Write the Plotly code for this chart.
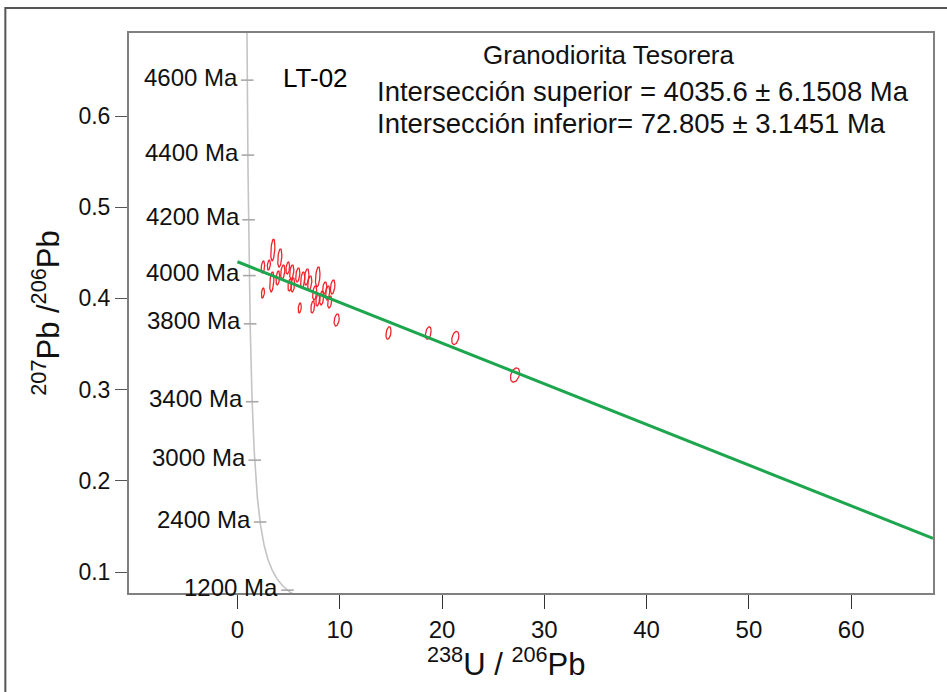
import numpy as np
import plotly.graph_objects as go

# ---- data ----
# concordia age marks (Ma)
age_marks = [4600, 4400, 4200, 4000, 3800, 3400, 3000, 2400, 1200]
# decay constants / ratio used to draw the Tera-Wasserburg concordia
lam238 = 1.55125e-10
lam235 = 9.8485e-10
u_ratio = 137.88

# analyses: 238U/206Pb, 207Pb/206Pb and half-widths of the error ellipses
ell_x = [2.49, 2.49, 3.46, 4.14, 3.36, 3.95, 4.43, 4.92, 5.31, 5.41, 5.90, 6.38, 6.77, 7.07,
         7.85, 7.55, 8.24, 8.82, 9.31, 6.09, 7.36, 9.02, 9.70, 3.07, 5.12, 8.53, 7.85,
         14.77, 18.66, 21.30, 27.14]
ell_y = [0.4344, 0.4059, 0.4531, 0.4443, 0.4180, 0.4224, 0.4289, 0.4333, 0.4289, 0.4147, 0.4257,
         0.4202, 0.4235, 0.4169, 0.4235, 0.4059, 0.4004, 0.4059, 0.4125, 0.3895, 0.3906, 0.3961,
         0.3763, 0.4366, 0.4147, 0.4114, 0.3983, 0.3621, 0.3621, 0.3566, 0.3160]
ell_sx = [0.17, 0.15, 0.20, 0.20, 0.20, 0.18, 0.20, 0.18, 0.20, 0.18, 0.20, 0.20, 0.22, 0.20,
          0.22, 0.20, 0.20, 0.20, 0.22, 0.15, 0.18, 0.20, 0.25, 0.15, 0.18, 0.20, 0.18,
          0.25, 0.28, 0.35, 0.45]
ell_sy = [0.0066, 0.0055, 0.0120, 0.0100, 0.0110, 0.0077, 0.0077, 0.0066, 0.0077, 0.0077, 0.0077,
          0.0088, 0.0088, 0.0077, 0.0110, 0.0077, 0.0077, 0.0077, 0.0077, 0.0055, 0.0066, 0.0066,
          0.0066, 0.0055, 0.0066, 0.0066, 0.0066, 0.0068, 0.0068, 0.0072, 0.0078]
ell_rho = 0.35

# discordia (regression) line end points
disc_x = [0.0, 68.0]
disc_y = [0.4402, 0.1369]

x_ticks = [0, 10, 20, 30, 40, 50, 60]
y_ticks = [0.1, 0.2, 0.3, 0.4, 0.5, 0.6]

title_lines = ["Granodiorita Tesorera",
               "Intersección superior = 4035.6 ± 6.1508 Ma",
               "Intersección inferior= 72.805 ± 3.1451 Ma"]
sample_label = "LT-02"


def tw(t_ma):
    t = np.asarray(t_ma, dtype=float) * 1e6
    e8 = np.exp(lam238 * t) - 1
    e5 = np.exp(lam235 * t) - 1
    return 1 / e8, e5 / e8 / u_ratio


fig = go.Figure()

# concordia curve
t_curve = np.linspace(1000, 4800, 400)
cx, cy = tw(t_curve)
fig.add_trace(go.Scatter(x=cx, y=cy, mode="lines",
                         line=dict(color="#c4c4c4", width=1.6),
                         hoverinfo="skip", showlegend=False))

# age marks
mx, my = tw(age_marks)
fig.add_trace(go.Scatter(x=mx, y=my, mode="markers",
                         marker=dict(symbol="line-ew", size=9,
                                     line=dict(color="#a8a8a8", width=1.6)),
                         hoverinfo="skip", showlegend=False))

# error ellipses
tt = np.linspace(0, 2 * np.pi, 40)
ex, ey = [], []
for x0, y0, sx, sy in zip(ell_x, ell_y, ell_sx, ell_sy):
    ex += list(x0 + sx * np.cos(tt)) + [None]
    ey += list(y0 + sy * (ell_rho * np.cos(tt) + np.sqrt(1 - ell_rho ** 2) * np.sin(tt))) + [None]
fig.add_trace(go.Scatter(x=ex, y=ey, mode="lines",
                         line=dict(color="#f0242b", width=1.3),
                         hoverinfo="skip", showlegend=False))

# discordia
fig.add_trace(go.Scatter(x=disc_x, y=disc_y, mode="lines",
                         line=dict(color="#1ea64e", width=3),
                         hoverinfo="skip", showlegend=False))

font_family = "Liberation Sans, Arial, sans-serif"

# age labels
for a, xx, yy in zip(age_marks, mx, my):
    fig.add_annotation(x=xx, y=yy, xref="x", yref="y", text=f"{a} Ma",
                       showarrow=False, xanchor="right", yanchor="middle",
                       xshift=-7, yshift=3, font=dict(size=24, color="#111", family=font_family))

fig.add_annotation(x=0.232, y=0.9196, xref="paper", yref="paper", text=sample_label,
                   showarrow=False, xanchor="center", yanchor="middle",
                   font=dict(size=26, color="#000", family=font_family))
fig.add_annotation(x=0.5968, y=0.9607, xref="paper", yref="paper", text=title_lines[0],
                   showarrow=False, xanchor="center", yanchor="middle",
                   font=dict(size=26, color="#111", family=font_family))
fig.add_annotation(x=0.3065, y=0.8964, xref="paper", yref="paper", text=title_lines[1],
                   showarrow=False, xanchor="left", yanchor="middle",
                   font=dict(size=27.5, color="#111", family=font_family))
fig.add_annotation(x=0.3065, y=0.8375, xref="paper", yref="paper", text=title_lines[2],
                   showarrow=False, xanchor="left", yanchor="middle",
                   font=dict(size=27.5, color="#111", family=font_family))

# x-axis title (sits a little left of the axis centre in the reference)
fig.add_annotation(x=0.469, y=-0.1232, xref="paper", yref="paper",
                   text="<sup>238</sup>U / <sup>206</sup>Pb",
                   showarrow=False, xanchor="center", yanchor="middle",
                   font=dict(size=31, color="#111", family=font_family))

# outer frame of the figure
fig.add_shape(type="rect", xref="paper", yref="paper",
              x0=-0.1538, x1=1.2, y0=-0.3, y1=1.0446,
              line=dict(color="#555", width=2), fillcolor="rgba(0,0,0,0)", layer="above")

fig.update_layout(
    width=947, height=692,
    margin=dict(l=129, r=12, t=33, b=99),
    paper_bgcolor="white", plot_bgcolor="white",
    showlegend=False,
    font=dict(family=font_family, color="#111"),
    xaxis=dict(range=[-10.6, 68], tickvals=x_ticks, ticks="outside", ticklen=14,
               tickcolor="#333", tickwidth=1.2, showgrid=False, zeroline=False,
               showline=True, mirror=True, linecolor="#808080", linewidth=2,
               tickfont=dict(size=24, color="#111")),
    yaxis=dict(range=[0.077, 0.691], tickvals=y_ticks, ticks="outside", ticklen=12,
               tickcolor="#555", tickwidth=1.2, showgrid=False, zeroline=False,
               showline=True, mirror=True, linecolor="#808080", linewidth=2,
               tickfont=dict(size=23, color="#111"),
               title=dict(text="<sup>207</sup>Pb /<sup>206</sup>Pb",
                          font=dict(size=31, color="#111"), standoff=10)),
)

fig.write_html("out.html")
